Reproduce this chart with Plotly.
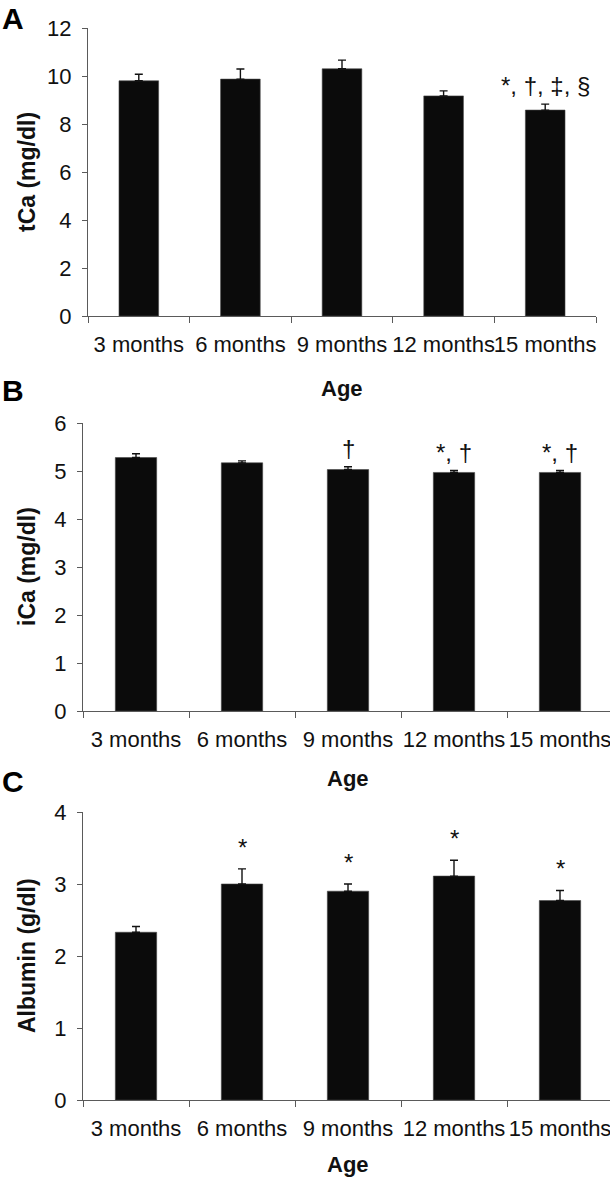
import plotly.graph_objects as go

W, H = 610, 1182

categories = ["3 months", "6 months", "9 months", "12 months", "15 months"]

tca_values = [9.80, 9.87, 10.30, 9.17, 8.58]
tca_errors = [0.27, 0.42, 0.36, 0.21, 0.25]
tca_marks = ["", "", "", "", "*, †, ‡, §"]

ica_values = [5.28, 5.17, 5.03, 4.97, 4.97]
ica_errors = [0.08, 0.04, 0.06, 0.04, 0.04]
ica_marks = ["", "", "†", "*, †", "*, †"]

alb_values = [2.33, 3.00, 2.90, 3.11, 2.77]
alb_errors = [0.08, 0.21, 0.10, 0.22, 0.14]
alb_marks = ["", "*", "*", "*", "*"]

panels = [
    dict(label="A", ytitle="tCa (mg/dl)", values=tca_values, errors=tca_errors, marks=tca_marks,
         ymax=12, dtick=2, px_x=(88, 596), px_y=(28, 316), ncat=5.0, label_y=18, age_gap=72, mark_shift=3),
    dict(label="B", ytitle="iCa (mg/dl)", values=ica_values, errors=ica_errors, marks=ica_marks,
         ymax=6, dtick=1, px_x=(83, 610), px_y=(423, 711), ncat=(610 - 83) / 106.0, label_y=390, age_gap=67, mark_shift=3),
    dict(label="C", ytitle="Albumin (g/dl)", values=alb_values, errors=alb_errors, marks=alb_marks,
         ymax=4, dtick=1, px_x=(83, 610), px_y=(812, 1100), ncat=(610 - 83) / 106.0, label_y=782, age_gap=64, mark_shift=6),
]

FONT = "Arial, Liberation Sans, sans-serif"
AXIS_COLOR = "#5a5a5a"

fig = go.Figure()
annotations = []

for i, p in enumerate(panels, start=1):
    xa = "x" if i == 1 else f"x{i}"
    ya = "y" if i == 1 else f"y{i}"
    fig.add_trace(go.Bar(
        x=categories, y=p["values"], xaxis=xa, yaxis=ya,
        marker=dict(color="#0b0b0b", line=dict(color="#444444", width=0.6)),
        error_y=dict(type="data", symmetric=False, array=p["errors"],
                     arrayminus=[0] * len(p["errors"]), color="#111111",
                     thickness=1.4, width=4),
        width=0.39, showlegend=False, hoverinfo="skip",
    ))
    x0, x1 = p["px_x"]
    y0, y1 = p["px_y"]
    dom_x = [x0 / W, x1 / W]
    dom_y = [1 - y1 / H, 1 - y0 / H]
    xkey = "xaxis" if i == 1 else f"xaxis{i}"
    ykey = "yaxis" if i == 1 else f"yaxis{i}"
    fig.update_layout(**{
        xkey: dict(domain=dom_x, anchor=ya, type="category",
                   range=[-0.5, -0.5 + p["ncat"]],
                   showline=True, linecolor=AXIS_COLOR, linewidth=1.2,
                   ticks="outside", tickson="boundaries", ticklen=6,
                   tickcolor=AXIS_COLOR, tickwidth=1.2, tickangle=0,
                   ticklabelstandoff=8,
                   showgrid=False, zeroline=False, automargin=False,
                   tickfont=dict(family=FONT, size=22, color="#111111"),
                   fixedrange=True),
        ykey: dict(domain=dom_y, anchor=xa, range=[0, p["ymax"]],
                   dtick=p["dtick"], tick0=0,
                   showline=True, linecolor=AXIS_COLOR, linewidth=1.2,
                   ticks="outside", ticklen=5, tickcolor=AXIS_COLOR,
                   tickwidth=1.2, showgrid=False, zeroline=False, automargin=False,
                   ticklabelstandoff=6,
                   tickfont=dict(family=FONT, size=22, color="#111111"),
                   fixedrange=True),
    })
    annotations.append(dict(text=f"<b>{p['label']}</b>", xref="paper", yref="paper",
                            x=13 / W, y=1 - p["label_y"] / H, xanchor="center", yanchor="middle",
                            showarrow=False, font=dict(family=FONT, size=30, color="#000000")))
    annotations.append(dict(text=f"<b>{p['ytitle']}</b>", xref="paper", yref="paper",
                            x=27 / W, y=1 - (y0 + y1) / 2 / H, textangle=-90,
                            xanchor="center", yanchor="middle", showarrow=False,
                            font=dict(family=FONT, size=23, color="#111111")))
    axis_end = x0 + (x1 - x0) * 5.0 / p["ncat"]
    annotations.append(dict(text="<b>Age</b>", xref="paper", yref="paper",
                            x=(x0 + axis_end) / 2 / W,
                            y=1 - (y1 + p["age_gap"]) / H, xanchor="center", yanchor="middle",
                            showarrow=False, font=dict(family=FONT, size=22, color="#111111")))
    for c, v, e, m in zip(categories, p["values"], p["errors"], p["marks"]):
        if m:
            annotations.append(dict(text=m, xref=xa, yref=ya, x=c, y=v + e,
                                    xanchor="center", yanchor="bottom", yshift=p["mark_shift"],
                                    showarrow=False,
                                    font=dict(family=FONT, size=24, color="#111111")))

fig.update_layout(
    width=W, height=H, margin=dict(l=0, r=0, t=0, b=0, autoexpand=False),
    paper_bgcolor="white", plot_bgcolor="white",
    annotations=annotations, bargap=0.6,
)

fig.write_html("out.html", config={"displayModeBar": False},
               post_script="document.body.style.margin='0';document.body.style.overflow='hidden';")
